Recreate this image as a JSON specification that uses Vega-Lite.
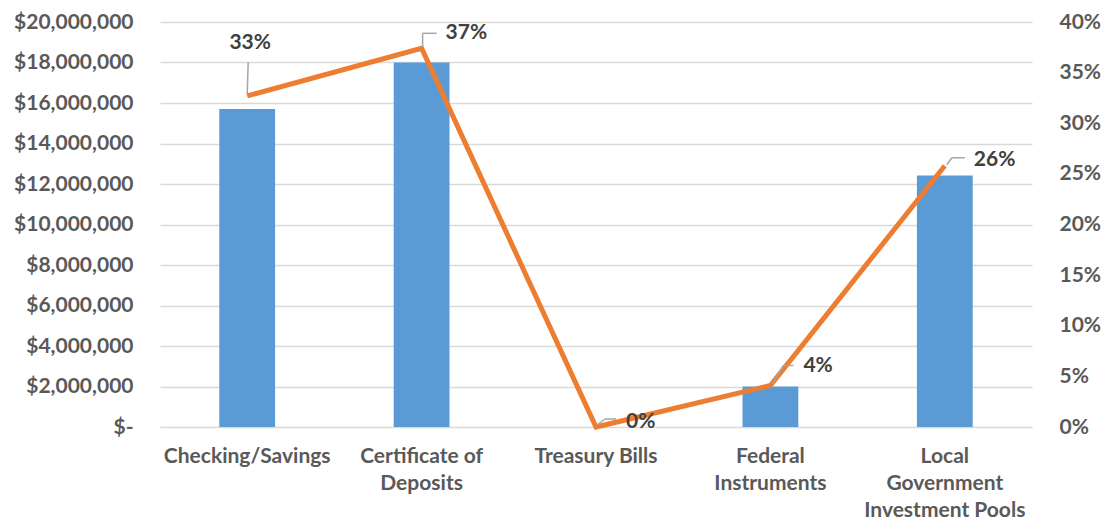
{
  "$schema": "https://vega.github.io/schema/vega-lite/v6.json",
  "width": 872,
  "height": 405,
  "autosize": {"type": "none"},
  "padding": {"left": 160, "top": 22, "right": 69, "bottom": 98},
  "background": "white",
  "config": {
    "view": {"stroke": null},
    "font": "Lato",
    "axis": {"labelFont": "Lato", "labelFontWeight": "bold", "labelColor": "#595959", "labelFontSize": 21}
  },
  "data": {
    "values": [
      {"cat": "Checking/Savings", "amount": 15700000, "pct": 0.327},
      {"cat": "Certificate of Deposits", "amount": 18000000, "pct": 0.374},
      {"cat": "Treasury Bills", "amount": 0, "pct": 0},
      {"cat": "Federal Instruments", "amount": 2000000, "pct": 0.041},
      {"cat": "Local Government Investment Pools", "amount": 12420000, "pct": 0.258}
    ]
  },
  "encoding": {
    "x": {
      "field": "cat", "type": "nominal", "sort": null,
      "scale": {"paddingInner": 0.68, "paddingOuter": 0.34},
      "axis": {
        "title": null, "labelAngle": 0, "ticks": false, "domain": true, "domainColor": "#D9D9D9",
        "labelPadding": 18, "labelLineHeight": 27, "labelBaseline": "top",
        "labelExpr": "datum.label == 'Certificate of Deposits' ? ['Certificate of', 'Deposits'] : datum.label == 'Federal Instruments' ? ['Federal', 'Instruments'] : datum.label == 'Local Government Investment Pools' ? ['Local', 'Government', 'Investment Pools'] : datum.label"
      }
    }
  },
  "layer": [
    {
      "mark": {"type": "bar", "color": "#5B9BD5"},
      "encoding": {
        "y": {
          "field": "amount", "type": "quantitative",
          "scale": {"domain": [0, 20000000], "nice": false},
          "axis": {
            "orient": "left", "title": null, "domain": false, "ticks": false, "labelPadding": 27,
            "values": [0, 2000000, 4000000, 6000000, 8000000, 10000000, 12000000, 14000000, 16000000, 18000000, 20000000],
            "grid": true, "gridColor": "#D9D9D9", "gridWidth": 1.5,
            "labelExpr": "datum.value == 0 ? '$-' : '$' + format(datum.value, ',')"
          }
        }
      }
    },
    {
      "encoding": {
        "y": {
          "field": "pct", "type": "quantitative",
          "scale": {"domain": [0, 0.4], "nice": false},
          "axis": {
            "orient": "right", "title": null, "domain": false, "ticks": false, "grid": false, "labelPadding": 24, "offset": 3,
            "values": [0, 0.05, 0.1, 0.15, 0.2, 0.25, 0.3, 0.35, 0.4], "format": ".0%"
          }
        }
      },
      "layer": [
        {"mark": {"type": "line", "color": "#ED7D31", "strokeWidth": 5}},
        {
          "transform": [{"filter": "datum.cat == 'Checking/Savings'"}],
          "mark": {"type": "rule", "color": "#A6A6A6", "strokeWidth": 1.5, "yOffset": -2, "x2Offset": 1, "y2Offset": -34},
          "encoding": {"x2": {"field": "cat"}, "y2": {"field": "pct"}}
        },
        {
          "transform": [{"filter": "datum.cat == 'Certificate of Deposits'"}],
          "mark": {"type": "rule", "color": "#A6A6A6", "strokeWidth": 1.5, "xOffset": 1, "yOffset": -1, "x2Offset": 1, "y2Offset": -15},
          "encoding": {"x2": {"field": "cat"}, "y2": {"field": "pct"}}
        },
        {
          "transform": [{"filter": "datum.cat == 'Certificate of Deposits'"}],
          "mark": {"type": "rule", "color": "#A6A6A6", "strokeWidth": 1.5, "xOffset": 1, "yOffset": -15, "x2Offset": 15, "y2Offset": -15},
          "encoding": {"x2": {"field": "cat"}, "y2": {"field": "pct"}}
        },
        {
          "transform": [{"filter": "datum.cat == 'Treasury Bills'"}],
          "mark": {"type": "rule", "color": "#A6A6A6", "strokeWidth": 1.5, "xOffset": 1, "yOffset": -2, "x2Offset": 9, "y2Offset": -8},
          "encoding": {"x2": {"field": "cat"}, "y2": {"field": "pct"}}
        },
        {
          "transform": [{"filter": "datum.cat == 'Treasury Bills'"}],
          "mark": {"type": "rule", "color": "#A6A6A6", "strokeWidth": 1.5, "xOffset": 9, "yOffset": -8, "x2Offset": 20, "y2Offset": -8},
          "encoding": {"x2": {"field": "cat"}, "y2": {"field": "pct"}}
        },
        {
          "transform": [{"filter": "datum.cat == 'Federal Instruments'"}],
          "mark": {"type": "rule", "color": "#A6A6A6", "strokeWidth": 1.5, "xOffset": 2, "yOffset": -1, "x2Offset": 13, "y2Offset": -20},
          "encoding": {"x2": {"field": "cat"}, "y2": {"field": "pct"}}
        },
        {
          "transform": [{"filter": "datum.cat == 'Federal Instruments'"}],
          "mark": {"type": "rule", "color": "#A6A6A6", "strokeWidth": 1.5, "xOffset": 13, "yOffset": -20, "x2Offset": 23, "y2Offset": -20},
          "encoding": {"x2": {"field": "cat"}, "y2": {"field": "pct"}}
        },
        {
          "transform": [{"filter": "datum.cat == 'Local Government Investment Pools'"}],
          "mark": {"type": "rule", "color": "#A6A6A6", "strokeWidth": 1.5, "xOffset": 2, "yOffset": -1, "x2Offset": 7, "y2Offset": -8},
          "encoding": {"x2": {"field": "cat"}, "y2": {"field": "pct"}}
        },
        {
          "transform": [{"filter": "datum.cat == 'Local Government Investment Pools'"}],
          "mark": {"type": "rule", "color": "#A6A6A6", "strokeWidth": 1.5, "xOffset": 7, "yOffset": -8, "x2Offset": 20, "y2Offset": -8},
          "encoding": {"x2": {"field": "cat"}, "y2": {"field": "pct"}}
        },
        {
          "transform": [{"filter": "datum.cat == 'Checking/Savings'"}],
          "mark": {"type": "text", "font": "Lato", "fontWeight": "bold", "fontSize": 21, "color": "#404040", "dy": -53, "dx": 3},
          "encoding": {"text": {"field": "pct", "format": ".0%"}}
        },
        {
          "transform": [{"filter": "datum.cat == 'Certificate of Deposits'"}],
          "mark": {"type": "text", "font": "Lato", "fontWeight": "bold", "fontSize": 21, "color": "#404040", "align": "left", "dx": 24, "dy": -15},
          "encoding": {"text": {"field": "pct", "format": ".0%"}}
        },
        {
          "transform": [{"filter": "datum.cat == 'Treasury Bills'"}],
          "mark": {"type": "text", "font": "Lato", "fontWeight": "bold", "fontSize": 21, "color": "#404040", "align": "left", "dx": 30, "dy": -5},
          "encoding": {"text": {"field": "pct", "format": ".0%"}}
        },
        {
          "transform": [{"filter": "datum.cat == 'Federal Instruments'"}],
          "mark": {"type": "text", "font": "Lato", "fontWeight": "bold", "fontSize": 21, "color": "#404040", "align": "left", "dx": 33, "dy": -19},
          "encoding": {"text": {"field": "pct", "format": ".0%"}}
        },
        {
          "transform": [{"filter": "datum.cat == 'Local Government Investment Pools'"}],
          "mark": {"type": "text", "font": "Lato", "fontWeight": "bold", "fontSize": 21, "color": "#404040", "align": "left", "dx": 29, "dy": -6},
          "encoding": {"text": {"field": "pct", "format": ".0%"}}
        }
      ]
    }
  ],
  "resolve": {"scale": {"y": "independent"}, "axis": {"y": "independent"}}
}
